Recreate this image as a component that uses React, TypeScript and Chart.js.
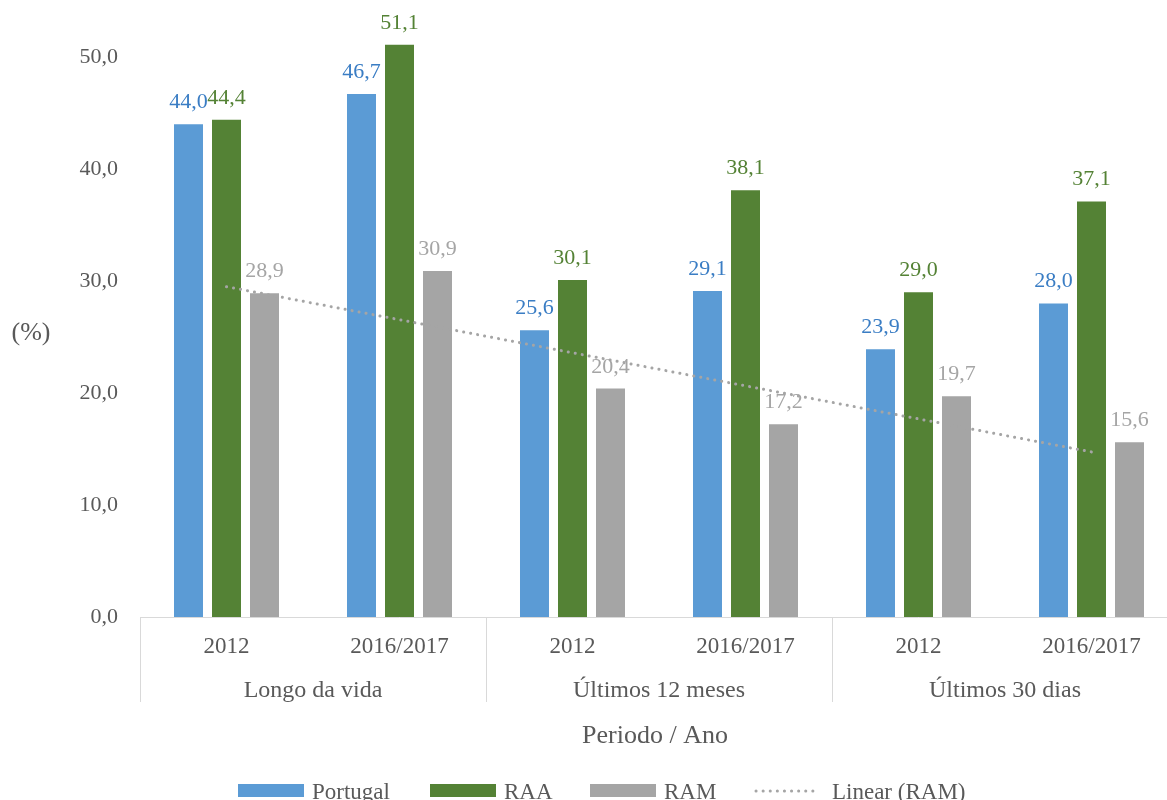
import React, { useEffect, useRef } from "react";
import { Chart, registerables } from "chart.js";

Chart.register(...registerables);

const years = ["2012", "2016/2017", "2012", "2016/2017", "2012", "2016/2017"];
const periods = ["Longo da vida", "Últimos 12 meses", "Últimos 30 dias"];
const portugal = [44.0, 46.7, 25.6, 29.1, 23.9, 28.0];
const raa = [44.4, 51.1, 30.1, 38.1, 29.0, 37.1];
const ram = [28.9, 30.9, 20.4, 17.2, 19.7, 15.6];
const seriesNames = ["Portugal", "RAA", "RAM", "Linear (RAM)"];
const yTickStep = 10;
const yMaxTick = 50;
const yTitle = "(%)";
const xTitle = "Periodo / Ano";

const FONT = "'Liberation Serif', 'Times New Roman', serif";
const TEXT = "#595959";
const LINE = "#D9D9D9";
const barColors = ["#5B9BD5", "#548235", "#A5A5A5"];
const labelColors = ["#3A7DC4", "#548235", "#A5A5A5"];

// Excel-style least squares linear trendline of the RAM series
function linearTrend(v: number[]): number[] {
  const n = v.length;
  const xs = v.map((_, i) => i + 1);
  const mx = xs.reduce((a, b) => a + b, 0) / n;
  const my = v.reduce((a, b) => a + b, 0) / n;
  let num = 0;
  let den = 0;
  for (let i = 0; i < n; i++) {
    num += (xs[i] - mx) * (v[i] - my);
    den += (xs[i] - mx) * (xs[i] - mx);
  }
  const slope = num / den;
  return xs.map((x) => my + slope * (x - mx));
}

const fmt = (v: number) => v.toFixed(1).replace(".", ",");

const overlay = {
  id: "overlay",
  afterDraw(chart: any) {
    const ctx = chart.ctx;
    const xs = chart.scales.x;
    const ca = chart.chartArea;
    ctx.save();

    // data labels
    ctx.font = `22px ${FONT}`;
    ctx.textAlign = "center";
    ctx.textBaseline = "alphabetic";
    [0, 1, 2].forEach((di) => {
      const meta = chart.getDatasetMeta(di);
      const vals = chart.data.datasets[di].data as number[];
      ctx.fillStyle = labelColors[di];
      meta.data.forEach((bar: any, i: number) => {
        ctx.fillText(fmt(vals[i]), bar.x, bar.y - 16);
      });
    });

    // x axis line
    ctx.strokeStyle = LINE;
    ctx.lineWidth = 1;
    ctx.beginPath();
    ctx.moveTo(ca.left, Math.round(ca.bottom) + 0.5);
    ctx.lineTo(ca.right, Math.round(ca.bottom) + 0.5);
    ctx.stroke();

    // group separators
    const seps: number[] = [xs.left];
    for (let g = 1; g < periods.length; g++) {
      const a = xs.getPixelForValue(g * 2 - 1);
      const b = xs.getPixelForValue(g * 2);
      seps.push((a + b) / 2);
    }
    seps.push(xs.right);
    ctx.beginPath();
    seps.forEach((sx) => {
      const px = Math.round(sx) + 0.5;
      ctx.moveTo(px, ca.bottom);
      ctx.lineTo(px, ca.bottom + 85);
    });
    ctx.stroke();

    // category labels
    ctx.fillStyle = TEXT;
    ctx.font = `23px ${FONT}`;
    ctx.textAlign = "center";
    years.forEach((y, i) => {
      ctx.fillText(y, xs.getPixelForValue(i), ca.bottom + 36);
    });
    ctx.font = `24px ${FONT}`;
    periods.forEach((p, g) => {
      const cx = (seps[g] + seps[g + 1]) / 2;
      ctx.fillText(p, cx, ca.bottom + 80);
    });

    // axis titles
    ctx.font = `26px ${FONT}`;
    ctx.fillText(xTitle, 655, 743);
    ctx.font = `26px ${FONT}`;
    ctx.textBaseline = "middle";
    ctx.fillText(yTitle, 31, 333);

    // legend
    ctx.textAlign = "left";
    ctx.textBaseline = "alphabetic";
    ctx.font = `23px ${FONT}`;
    const items = [
      { box: 238, text: 312 },
      { box: 430, text: 504 },
      { box: 590, text: 664 },
    ];
    items.forEach((it, i) => {
      ctx.fillStyle = barColors[i];
      ctx.fillRect(it.box, 784, 66, 13);
      ctx.fillStyle = TEXT;
      ctx.fillText(seriesNames[i], it.text, 799);
    });
    ctx.strokeStyle = "#A5A5A5";
    ctx.lineWidth = 3;
    ctx.lineCap = "round";
    ctx.setLineDash([0.1, 7]);
    ctx.beginPath();
    ctx.moveTo(756, 791);
    ctx.lineTo(817, 791);
    ctx.stroke();
    ctx.setLineDash([]);
    ctx.fillStyle = TEXT;
    ctx.fillText(seriesNames[3], 832, 799);

    ctx.restore();
  },
};

export default function App() {
  const ref = useRef<HTMLCanvasElement | null>(null);

  useEffect(() => {
    if (!ref.current) return;
    const chart = new Chart(ref.current, {
      type: "bar",
      data: {
        labels: years,
        datasets: [
          {
            label: seriesNames[0],
            data: portugal,
            backgroundColor: barColors[0],
            order: 1,
            categoryPercentage: 0.659,
            barPercentage: 0.763,
          },
          {
            label: seriesNames[1],
            data: raa,
            backgroundColor: barColors[1],
            order: 1,
            categoryPercentage: 0.659,
            barPercentage: 0.763,
          },
          {
            label: seriesNames[2],
            data: ram,
            backgroundColor: barColors[2],
            order: 1,
            categoryPercentage: 0.659,
            barPercentage: 0.763,
          },
          {
            type: "line",
            label: seriesNames[3],
            data: linearTrend(ram),
            borderColor: "#A5A5A5",
            borderWidth: 3,
            borderCapStyle: "round",
            borderDash: [0.1, 7],
            pointRadius: 0,
            fill: false,
            order: 0,
          } as any,
        ],
      },
      options: {
        responsive: false,
        animation: false,
        devicePixelRatio: 1,
        layout: { padding: 0 },
        plugins: {
          legend: { display: false },
          tooltip: { enabled: false },
        },
        scales: {
          x: {
            grid: { display: false, drawTicks: false },
            border: { display: false },
            ticks: { display: false },
            afterFit: (s: any) => {
              s.height = 183;
            },
          },
          y: {
            min: 0,
            max: 55.09,
            grid: { display: false, drawTicks: false },
            border: { display: false },
            ticks: {
              stepSize: yTickStep,
              padding: 22,
              color: TEXT,
              font: { family: FONT, size: 22 },
              callback: (v: any) => fmt(Number(v)),
            },
            afterBuildTicks: (s: any) => {
              s.ticks = s.ticks.filter(
                (t: any) => t.value % yTickStep === 0 && t.value <= yMaxTick
              );
            },
            afterFit: (s: any) => {
              s.width = 140;
              s.paddingTop = 0;
              s.paddingBottom = 0;
            },
          },
        },
      },
      plugins: [overlay],
    });
    return () => chart.destroy();
  }, []);

  return (
    <div
      style={{
        position: "absolute",
        left: 0,
        top: 0,
        width: 1167,
        height: 800,
        overflow: "hidden",
        background: "#ffffff",
      }}
    >
      <canvas ref={ref} width={1178} height={800} style={{ display: "block" }} />
    </div>
  );
}
